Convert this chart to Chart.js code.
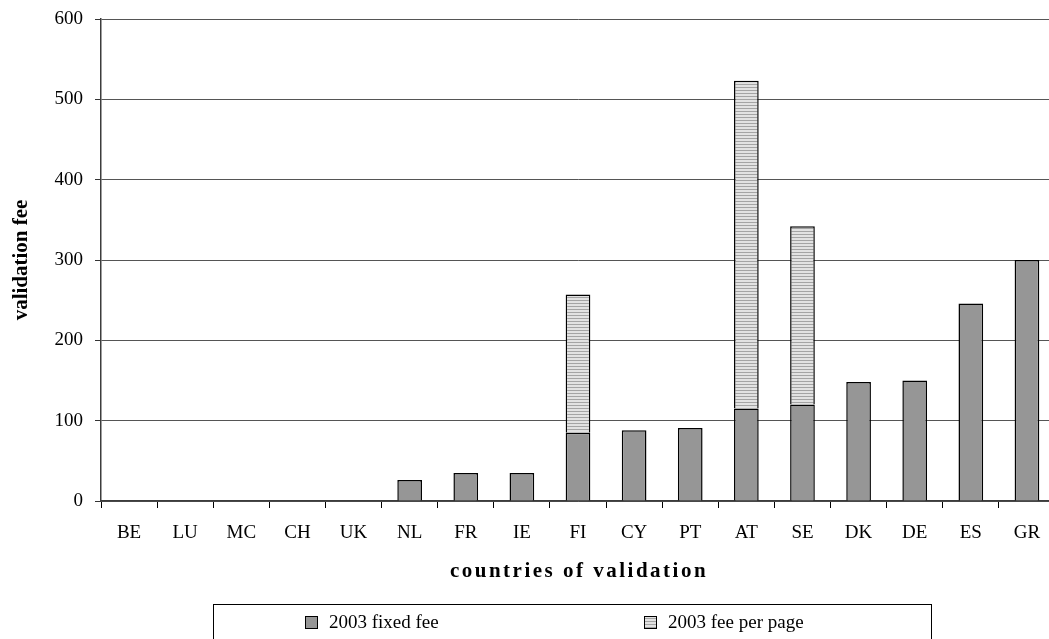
<!DOCTYPE html>
<html>
<head>
<meta charset="utf-8">
<script src="https://cdn.jsdelivr.net/npm/chart.js@4.4.1/dist/chart.umd.min.js"></script>
<style>
  html, body { margin: 0; padding: 0; background: #fff; overflow: hidden; }
  #chart { display: block; }
</style>
</head>
<body>
<canvas id="chart" width="1060" height="639"></canvas>
<script>
// values
const countries = ['BE', 'LU', 'MC', 'CH', 'UK', 'NL', 'FR', 'IE', 'FI', 'CY', 'PT', 'AT', 'SE', 'DK', 'DE', 'ES', 'GR'];
const fixedFee = [0, 0, 0, 0, 0, 26, 35, 35, 85, 88, 91, 115, 120, 148, 150, 246, 300];
const feePerPage = [0, 0, 0, 0, 0, 0, 0, 0, 172, 0, 0, 408, 222, 0, 0, 0, 0];
const yTicks = [0, 100, 200, 300, 400, 500, 600];
const xTitle = 'countries of validation';

const serif = '"Liberation Serif", "Times New Roman", serif';

// light grey fill with thin horizontal lines
function stripePattern() {
    const c = document.createElement('canvas');
    c.width = 4;
    c.height = 3;
    const g = c.getContext('2d');
    g.fillStyle = '#e2e2e2';
    g.fillRect(0, 0, 4, 3);
    g.fillStyle = '#a4a4a4';
    g.fillRect(0, 0, 4, 1);
    return g.createPattern(c, 'repeat');
}
const stripes = stripePattern();

// spaced-out x title plus the framed legend under it
const bottomTexts = {
    id: 'bottomTexts',
    afterDraw(chart) {
        const ctx = chart.ctx;
        const area = chart.chartArea;
        ctx.save();
        ctx.fillStyle = '#000';
        ctx.textAlign = 'center';
        ctx.textBaseline = 'middle';
        ctx.font = 'bold 21px ' + serif;
        ctx.letterSpacing = '2.5px';
        ctx.fillText(xTitle, (area.left + area.right) / 2 + 1, 572);
        ctx.letterSpacing = '0px';

        const spots = [305, 644];
        ctx.textAlign = 'left';
        ctx.strokeStyle = '#000';
        ctx.lineWidth = 1;
        ctx.strokeRect(213.5, 604.5, 718, 60);
        ctx.font = '19px ' + serif;
        chart.data.datasets.forEach((ds, i) => {
            const x = spots[i];
            ctx.fillStyle = ds.backgroundColor;
            ctx.fillRect(x, 616, 13, 13);
            ctx.strokeRect(x + 0.5, 616.5, 12, 12);
            ctx.fillStyle = '#000';
            ctx.fillText(ds.label, x + 24, 623);
        });
        ctx.restore();
    }
};

new Chart(document.getElementById('chart'), {
    type: 'bar',
    data: {
        labels: countries,
        datasets: [
            {
                label: '2003 fixed fee',
                data: fixedFee,
                backgroundColor: '#969696',
                borderColor: '#000',
                borderWidth: 1.5
            },
            {
                label: '2003 fee per page',
                data: feePerPage,
                backgroundColor: stripes,
                borderColor: '#000',
                borderWidth: 1.5
            }
        ]
    },
    options: {
        responsive: false,
        animation: false,
        events: [],
        categoryPercentage: 1,
        barPercentage: 0.44,
        layout: { padding: { left: 0, top: 19, right: 5, bottom: 0 } },
        plugins: {
            legend: { display: false },
            tooltip: { enabled: false }
        },
        scales: {
            x: {
                stacked: true,
                afterFit: s => { s.height = 138; },
                grid: { drawOnChartArea: false, drawTicks: true, tickLength: 7, color: '#000', offset: true },
                border: { color: '#3c3c3c', width: 1.5 },
                ticks: { color: '#000', padding: 14, font: { family: serif, size: 19 } }
            },
            y: {
                stacked: true,
                min: 0,
                max: 600,
                afterFit: s => { s.width = 101; s.paddingTop = 0; s.paddingBottom = 0; },
                afterBuildTicks: s => { s.ticks = yTicks.map(v => ({ value: v })); },
                grid: { color: '#555', lineWidth: 1, tickLength: 6, tickColor: '#333' },
                border: { color: '#3c3c3c', width: 1.5 },
                ticks: { color: '#000', padding: 12, font: { family: serif, size: 19 } },
                title: {
                    display: true,
                    text: 'validation fee',
                    color: '#000',
                    font: { family: serif, size: 21, weight: 'bold' },
                    padding: { top: 9, bottom: 0 }
                }
            }
        }
    },
    plugins: [bottomTexts]
});
</script>
</body>
</html>
